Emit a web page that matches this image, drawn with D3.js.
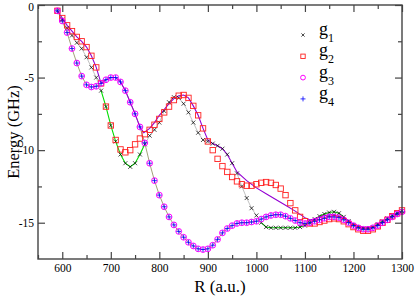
<!DOCTYPE html>
<html>
<head>
<meta charset="utf-8">
<script src="https://cdn.jsdelivr.net/npm/d3@7"></script>
<style>
  body { margin: 0; background: #fff; }
  svg { display: block; }
  svg text { font-family: "Liberation Serif", "Times New Roman", "Liberation Sans", Arial, sans-serif; }
</style>
</head>
<body>
<svg width="415" height="298"></svg>
<script>
// R grid (a.u.) shared by the four data sets
const R = [590, 600, 610, 620, 630, 640, 650, 660, 670, 680,
  690, 700, 710, 720, 730, 740, 750, 760, 770, 780,
  790, 800, 810, 820, 830, 840, 850, 860, 870, 880,
  890, 900, 910, 920, 930, 940, 950, 960, 970, 980,
  990, 1000, 1010, 1020, 1030, 1040, 1050, 1060, 1070, 1080,
  1090, 1100, 1110, 1120, 1130, 1140, 1150, 1160, 1170, 1180,
  1190, 1200, 1210, 1220, 1230, 1240, 1250, 1260, 1270, 1280,
  1290, 1300];

const g1 = [-0.4, -1.0, -1.6, -2.1, -2.6, -3.0, -3.6, -4.3, -5.0, -5.9,
  -7.0, -8.3, -9.4, -10.3, -10.9, -11.15, -10.9, -10.3, -9.6, -9.0,
  -8.6, -8.1, -7.3, -6.7, -6.35, -6.4, -6.8, -7.4, -8.1, -8.8,
  -9.3, -9.4, -9.55, -9.7, -9.9, -10.3, -10.9, -11.6, -12.5, -13.3,
  -14.0, -14.5, -15.0, -15.3, -15.35, -15.35, -15.35, -15.35, -15.35, -15.35,
  -15.3, -15.2, -15.0, -14.75, -14.55, -14.4, -14.3, -14.25, -14.35, -14.6,
  -14.9, -15.15, -15.3, -15.4, -15.4, -15.3, -15.1, -14.9, -14.7, -14.5,
  -14.35, -14.2];

const g2 = [-0.4, -0.9, -1.4, -1.8, -2.2, -2.5, -2.9, -3.5, -4.3, -5.4,
  -7.0, -8.3, -9.3, -9.95, -10.15, -10.0, -9.6, -9.2, -8.9, -8.6,
  -8.25, -7.85, -7.4, -7.0, -6.55, -6.25, -6.2, -6.4, -6.95, -7.6,
  -8.5, -9.4, -10.0, -10.6, -11.1, -11.5, -11.85, -12.15, -12.35, -12.45,
  -12.45, -12.35, -12.25, -12.2, -12.25, -12.4, -12.65, -13.1, -13.65, -14.15,
  -14.6, -14.9, -15.05, -15.05, -14.95, -14.85, -14.75, -14.7, -14.75, -14.9,
  -15.1, -15.3, -15.45, -15.55, -15.55, -15.45, -15.25, -15.0, -14.8, -14.55,
  -14.35, -14.15];

const g3 = [-0.4, -1.1, -1.9, -3.0, -4.0, -4.9, -5.5, -5.65, -5.6, -5.4,
  -5.15, -5.0, -5.0, -5.3, -5.9, -6.7, -7.5, -8.4, -9.5, -10.9,
  -12.1, -13.1, -13.9, -14.6, -15.15, -15.6, -16.0, -16.35, -16.6, -16.8,
  -16.85, -16.8, -16.55, -16.15, -15.7, -15.4, -15.2, -15.05, -15.0, -15.0,
  -14.95, -14.9, -14.75, -14.6, -14.5, -14.45, -14.45, -14.55, -14.7, -14.85,
  -15.0, -15.05, -15.0, -14.9, -14.8, -14.7, -14.6, -14.6, -14.65, -14.8,
  -15.0, -15.2, -15.35, -15.45, -15.45, -15.35, -15.2, -15.0, -14.8, -14.6,
  -14.4, -14.25];

// g4 sits on top of g3 everywhere in the figure
const g4 = g3.slice();

// violet curve (upper branch), R and E
const violetR = [590, 600, 610, 620, 630, 640, 650, 660, 670, 680,
  690, 700, 710, 720, 730, 740, 750, 760, 768, 780,
  790, 800, 810, 820, 830, 840, 850, 860, 870, 880,
  890, 900, 910, 920, 930, 940, 950, 960, 980, 1000,
  1020, 1040, 1060, 1080, 1100, 1110, 1120, 1140, 1160, 1180,
  1200, 1220, 1240, 1260, 1280, 1300];
const violetE = [-0.4, -0.9, -1.4, -1.8, -2.2, -2.5, -2.9, -3.5, -4.3, -5.4,
  -5.15, -5.0, -5.0, -5.3, -5.9, -6.7, -7.5, -8.4, -8.8, -8.5,
  -8.1, -7.6, -7.2, -6.8, -6.45, -6.25, -6.2, -6.4, -6.95, -7.6,
  -8.5, -9.3, -9.55, -9.7, -9.9, -10.3, -10.9, -11.5, -12.1, -12.6,
  -13.0, -13.4, -13.8, -14.2, -14.65, -14.8, -14.75, -14.5, -14.45, -14.7,
  -15.1, -15.35, -15.35, -15.0, -14.6, -14.2];

const xTicks = [600, 700, 800, 900, 1000, 1100, 1200, 1300];
const xMinor = [550, 650, 750, 850, 950, 1050, 1150, 1250];
const yTicks = [0, -5, -10, -15];
const yMinor = [-2.5, -7.5, -12.5];
const legendNames = ["g", "g", "g", "g"];
const legendSubs = ["1", "2", "3", "4"];

const svg = d3.select("svg");
const margin = { top: 5, right: 13, bottom: 39, left: 38 };
const W = 415, H = 298;

const x = d3.scaleLinear().domain([550, 1300]).range([margin.left, W - margin.right]);
const y = d3.scaleLinear().domain([-17.5, 0]).range([H - margin.bottom, margin.top]);

const sets = { g1, g2, g3, g4 };
const pts = (key) => R.map((r, i) => [r, sets[key][i]]);

// line pieces drawn under the symbols
const pieces = [
  { key: "g3", lo: 590, hi: 1300, color: "#a3a27a", w: 1 },
  { key: "g1", lo: 590, hi: 680, color: "#b0b0b0", w: 0.8 },
  { key: "g1", lo: 770, hi: 900, color: "#b0b0b0", w: 0.8 },
  { key: "g1", lo: 960, hi: 1010, color: "#b0b0b0", w: 0.8 },
  { key: "g1", lo: 680, hi: 770, color: "#00dd00", w: 1.1 },
  { key: "g1", lo: 1010, hi: 1300, color: "#00bb00", w: 1.1 }
];

const line = d3.line().x((d) => x(d[0])).y((d) => y(d[1]));

const gl = svg.append("g").attr("fill", "none");
pieces.forEach((p) => {
  gl.append("path")
    .attr("d", line(pts(p.key).filter((d) => d[0] >= p.lo && d[0] <= p.hi)))
    .attr("stroke", p.color)
    .attr("stroke-width", p.w);
});
gl.append("path")
  .attr("d", line(violetR.map((r, i) => [r, violetE[i]])))
  .attr("stroke", "#9400d3")
  .attr("stroke-width", 1.1);

// symbols
const sym = {
  g1: (g, s) => g.append("path").attr("d", `M${-s},${-s}L${s},${s}M${-s},${s}L${s},${-s}`)
    .attr("stroke", "#000").attr("stroke-width", 0.7).attr("fill", "none"),
  g2: (g, s) => g.append("rect").attr("x", -s).attr("y", -s).attr("width", 2 * s).attr("height", 2 * s)
    .attr("stroke", "#ff2020").attr("stroke-width", 0.9).attr("fill", "none"),
  g3: (g, s) => g.append("circle").attr("r", s)
    .attr("stroke", "#ff00ff").attr("stroke-width", 1).attr("fill", "none"),
  g4: (g, s) => g.append("path").attr("d", `M${-s},0L${s},0M0,${-s}L0,${s}`)
    .attr("stroke", "#0000ff").attr("stroke-width", 0.8).attr("fill", "none")
};
const plotSize = { g1: 2, g2: 2.7, g3: 2.9, g4: 2.4 };
const legSize = { g1: 1.6, g2: 2.2, g3: 2.4, g4: 2.5 };

["g1", "g2", "g3", "g4"].forEach((k) => {
  svg.append("g")
    .selectAll("g")
    .data(pts(k))
    .join("g")
    .attr("transform", (d) => `translate(${x(d[0])},${y(d[1])})`)
    .each(function () { sym[k](d3.select(this), plotSize[k]); });
});

// axes, ticks pointing inward on all four sides
const styleAxis = (g) => {
  g.attr("font-family", null);
  g.select(".domain").remove();
  g.selectAll("line").attr("stroke", "#444").attr("stroke-width", 1.2);
  g.selectAll("text").attr("fill", "#000").style("font-size", "11.5px");
};
const fmt = (d) => String(d);

svg.append("g").attr("transform", `translate(0,${H - margin.bottom})`)
  .call(d3.axisBottom(x).tickValues(xTicks).tickSize(-7).tickPadding(5).tickFormat(fmt)).call(styleAxis);
svg.append("g").attr("transform", `translate(0,${H - margin.bottom})`)
  .call(d3.axisBottom(x).tickValues(xMinor).tickSize(-4).tickFormat("")).call(styleAxis);
svg.append("g").attr("transform", `translate(0,${margin.top})`)
  .call(d3.axisTop(x).tickValues(xTicks).tickSize(-7).tickFormat("")).call(styleAxis);
svg.append("g").attr("transform", `translate(0,${margin.top})`)
  .call(d3.axisTop(x).tickValues(xMinor).tickSize(-4).tickFormat("")).call(styleAxis);

const yAx = svg.append("g").attr("transform", `translate(${margin.left},0)`)
  .call(d3.axisLeft(y).tickValues(yTicks).tickSize(-7).tickPadding(4).tickFormat(fmt)).call(styleAxis);
// keep the top "0" label inside the picture
yAx.selectAll(".tick text").filter((d) => d === 0).attr("dy", "0.5em");
svg.append("g").attr("transform", `translate(${margin.left},0)`)
  .call(d3.axisLeft(y).tickValues(yMinor).tickSize(-4).tickFormat("")).call(styleAxis);
svg.append("g").attr("transform", `translate(${W - margin.right},0)`)
  .call(d3.axisRight(y).tickValues(yTicks).tickSize(-7).tickFormat("")).call(styleAxis);
svg.append("g").attr("transform", `translate(${W - margin.right},0)`)
  .call(d3.axisRight(y).tickValues(yMinor).tickSize(-4).tickFormat("")).call(styleAxis);

svg.append("rect")
  .attr("x", margin.left).attr("y", margin.top)
  .attr("width", W - margin.left - margin.right)
  .attr("height", H - margin.top - margin.bottom)
  .attr("fill", "none").attr("stroke", "#444").attr("stroke-width", 1.4);

// axis titles
svg.append("text")
  .attr("x", (margin.left + W - margin.right) / 2).attr("y", 292)
  .attr("text-anchor", "middle")
  .style("font-size", "17px")
  .text("R (a.u.)");
svg.append("text")
  .attr("transform", `translate(19,${(margin.top + H - margin.bottom) / 2}) rotate(-90)`)
  .attr("text-anchor", "middle")
  .style("font-size", "16.5px")
  .text("Energy (GHz)");

// legend
const leg = svg.append("g").attr("transform", "translate(303,35)");
["g1", "g2", "g3", "g4"].forEach((k, i) => {
  const row = leg.append("g").attr("transform", `translate(0,${i * 21.3})`);
  sym[k](row, legSize[k]);
  const t = row.append("text").attr("x", 16).attr("y", 0)
    .style("font-size", "18px");
  t.append("tspan").text(legendNames[i]);
  t.append("tspan").attr("dy", 7).style("font-size", "12px").text(legendSubs[i]);
});
</script>
</body>
</html>
